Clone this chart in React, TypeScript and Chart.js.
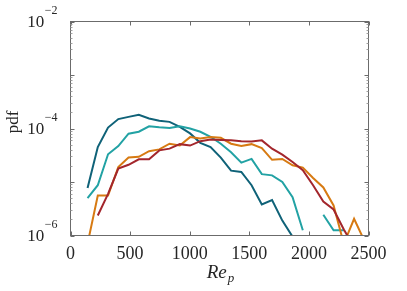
import React, { useEffect, useRef } from 'react';
import { Chart, registerables } from 'chart.js';

Chart.register(...registerables);

// Bin centres of Re_p
const binCenters = [143, 229, 315, 401, 487, 573, 659, 745, 831, 917, 1003, 1089, 1175, 1261, 1347, 1433, 1519, 1605, 1691, 1777, 1863, 1949, 2035, 2121, 2207, 2293, 2379, 2465];

const darkTeal = [7.7e-6, 4.5e-5, 1.04e-4, 1.5e-4, 1.65e-4, 1.8e-4, 1.54e-4, 1.39e-4, 1.33e-4, 1.07e-4, 8.1e-5, 5.4e-5, 4.5e-5, 2.86e-5, 1.63e-5, 1.54e-5, 8.7e-6, 3.8e-6, 4.6e-6, 1.9e-6, 9.5e-7, null, null, null, null, null, null, null];
const cyan = [5e-6, 8.7e-6, 3.3e-5, 4.7e-5, 8e-5, 8.7e-5, 1.1e-4, 1.05e-4, 1.02e-4, 1.1e-4, 1.0e-4, 8.7e-5, 7e-5, 5.2e-5, 3.6e-5, 2.3e-5, 2.7e-5, 1.4e-5, 1.33e-5, 1.0e-5, 5.2e-6, 1.25e-6, null, 2.45e-6, 1.25e-6, 1.25e-6, null, null];
const orange = [7e-7, 5.6e-6, 5.6e-6, 1.9e-5, 2.86e-5, 2.95e-5, 3.76e-5, 4.07e-5, 5.2e-5, 4.8e-5, 6.9e-5, 6.5e-5, 6.9e-5, 6.7e-5, 5.2e-5, 4.7e-5, 5.1e-5, 4.3e-5, 2.6e-5, 2.7e-5, 2.05e-5, 1.86e-5, 1.19e-5, 7.9e-6, 3.65e-6, 7e-7, 2.05e-6, 8e-7];
const red = [null, 2.37e-6, 6e-6, 1.78e-5, 2.1e-5, 2.66e-5, 2.66e-5, 3.9e-5, 4.2e-5, 5.1e-5, 4.8e-5, 5.8e-5, 6.2e-5, 6.1e-5, 6.0e-5, 5.8e-5, 5.7e-5, 6.0e-5, 4.2e-5, 3.25e-5, 2.37e-5, 1.66e-5, 8.7e-6, 4.3e-6, 3.07e-6, 1.3e-6, 6e-7, null];

const xTickLabels = [0, 500, 1000, 1500, 2000, 2500];
const yTickExponents = [-6, -4, -2];
const yMajorExponents = [-6, -5, -4, -3, -2];

const SERIF = '"Liberation Serif", "DejaVu Serif", serif';

const axisPlugin = {
  id: 'matlabAxes',
  afterDraw(chart: any) {
    const { ctx, chartArea: a, scales } = chart;
    const xs = scales.x;
    const ys = scales.y;
    ctx.save();
    ctx.strokeStyle = '#6b6b6b';
    ctx.lineWidth = 1;
    ctx.strokeRect(a.left, a.top, a.right - a.left, a.bottom - a.top);
    ctx.beginPath();
    for (const t of xTickLabels) {
      const px = Math.round(xs.getPixelForValue(t)) + 0.5;
      ctx.moveTo(px, a.bottom);
      ctx.lineTo(px, a.bottom - 4);
      ctx.moveTo(px, a.top);
      ctx.lineTo(px, a.top + 4);
    }
    for (const e of yMajorExponents) {
      const py = Math.round(ys.getPixelForValue(Math.pow(10, e))) + 0.5;
      ctx.moveTo(a.left, py);
      ctx.lineTo(a.left + 4, py);
      ctx.moveTo(a.right, py);
      ctx.lineTo(a.right - 4, py);
    }
    ctx.stroke();
    ctx.strokeStyle = '#a0a0a0';
    ctx.beginPath();
    for (const e of yMajorExponents) {
      if (e < -2) {
        for (let m = 2; m <= 9; m++) {
          const pm = Math.round(ys.getPixelForValue(m * Math.pow(10, e))) + 0.5;
          ctx.moveTo(a.left, pm);
          ctx.lineTo(a.left + 2, pm);
          ctx.moveTo(a.right, pm);
          ctx.lineTo(a.right - 2, pm);
        }
      }
    }
    ctx.stroke();

    ctx.fillStyle = '#262626';
    // x tick labels
    ctx.font = `18px ${SERIF}`;
    ctx.textAlign = 'center';
    ctx.textBaseline = 'alphabetic';
    for (const t of xTickLabels) {
      ctx.fillText(String(t), xs.getPixelForValue(t), 258.5);
    }
    // y tick labels
    for (const e of yTickExponents) {
      const py = ys.getPixelForValue(Math.pow(10, e));
      const exp = '\u2212' + String(-e);
      ctx.font = `12px ${SERIF}`;
      const we = ctx.measureText(exp).width;
      ctx.textAlign = 'right';
      ctx.fillText(exp, 57.5, py - 8);
      ctx.font = `17px ${SERIF}`;
      ctx.fillText('10', 57.5 - we - 0.5, py + 5.5);
    }
    // x title Re_p
    ctx.textAlign = 'left';
    ctx.font = `italic 19px ${SERIF}`;
    const wRe = ctx.measureText('Re').width;
    ctx.font = `italic 13px ${SERIF}`;
    const wp = ctx.measureText('p').width;
    const cx = (a.left + a.right) / 2 + 1;
    const x0 = cx - (wRe + wp + 1) / 2;
    ctx.font = `italic 19px ${SERIF}`;
    ctx.fillText('Re', x0, 277.5);
    ctx.font = `italic 13px ${SERIF}`;
    ctx.fillText('p', x0 + wRe + 1, 281.5);
    // y title
    ctx.save();
    ctx.translate(18, 122);
    ctx.rotate(-Math.PI / 2);
    ctx.textAlign = 'center';
    ctx.font = `17px ${SERIF}`;
    ctx.fillText('pdf', 0, 0);
    ctx.restore();
    ctx.restore();
  },
};

export default function App() {
  const ref = useRef<HTMLCanvasElement>(null);
  useEffect(() => {
    const canvas = ref.current;
    if (!canvas) return;
    const mk = (vals: (number | null)[]) => vals.map((v, i) => ({ x: binCenters[i], y: v }));
    const common = { borderWidth: 2, pointRadius: 0, tension: 0, fill: false, clip: 0, spanGaps: false };
    const chart = new Chart(canvas, {
      type: 'line',
      data: {
        datasets: [
          { ...common, label: 'red', data: mk(red), borderColor: '#a3262c' },
          { ...common, label: 'orange', data: mk(orange), borderColor: '#d77a12' },
          { ...common, label: 'cyan', data: mk(cyan), borderColor: '#22a2a4' },
          { ...common, label: 'darkTeal', data: mk(darkTeal), borderColor: '#0f6278' },
        ] as any,
      },
      options: {
        responsive: false,
        animation: false,
        devicePixelRatio: 1,
        layout: { padding: { left: 70.5, right: 38.5, top: 21.5, bottom: 55.5 } },
        plugins: { legend: { display: false }, tooltip: { enabled: false } },
        scales: {
          x: { type: 'linear', min: 0, max: 2500, display: false },
          y: { type: 'logarithmic', min: 1e-6, max: 1e-2, display: false },
        },
      },
      plugins: [axisPlugin],
    });
    return () => chart.destroy();
  }, []);
  return (
    <div style={{ position: 'absolute', left: 0, top: 0, width: 407, height: 291, background: '#fff' }}>
      <canvas ref={ref} width={407} height={291} style={{ display: 'block' }} />
    </div>
  );
}
